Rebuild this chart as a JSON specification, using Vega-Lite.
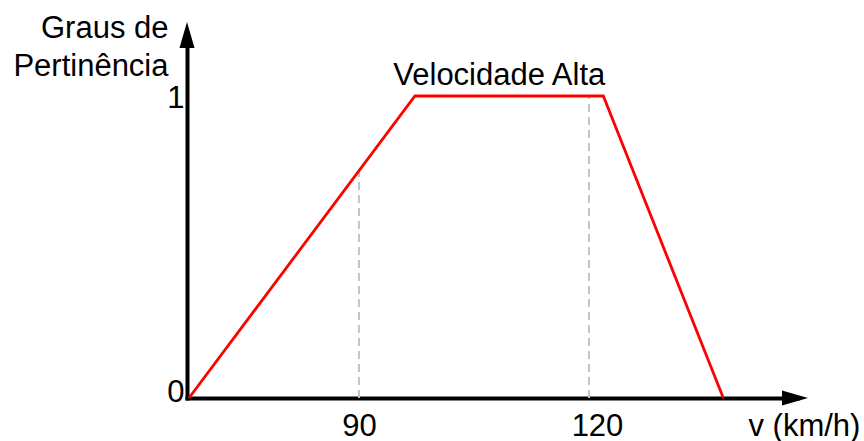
{
  "$schema": "https://vega.github.io/schema/vega-lite/v6.json",
  "autosize": "none",
  "width": 610,
  "height": 363,
  "padding": {"left": 187, "top": 35, "right": 67, "bottom": 43},
  "background": "white",
  "config": {
    "view": {"stroke": null},
    "font": "Liberation Sans"
  },
  "datasets": {
    "pertinencia": [
      {"v": 67.83, "g": 0},
      {"v": 97.3, "g": 1},
      {"v": 121.87, "g": 1},
      {"v": 137.52, "g": 0}
    ],
    "guias": [
      {"guia": "90", "v": 90, "g": 0},
      {"guia": "90", "v": 90, "g": 0.752},
      {"guia": "120", "v": 120, "g": 0},
      {"guia": "120", "v": 120, "g": 1}
    ],
    "rotulo": [
      {"v": 108.3, "g": 1.036, "label": "Velocidade Alta"}
    ]
  },
  "layer": [
    {
      "data": {"name": "guias"},
      "mark": {"type": "line", "color": "#c4c4c4", "strokeWidth": 2, "strokeDash": [8, 5]},
      "encoding": {
        "x": {
          "field": "v",
          "type": "quantitative",
          "scale": {"domain": [67.57, 147.13], "nice": false, "zero": false},
          "axis": {
            "values": [90, 120],
            "format": "d",
            "domain": true,
            "domainColor": "black",
            "domainWidth": 4,
            "domainCap": "square",
            "ticks": false,
            "grid": false,
            "labelFontSize": 31,
            "labelColor": "black",
            "labelFont": "Liberation Sans",
            "labelBaseline": "alphabetic",
            "labelPadding": 37,
            "labelOffset": {"condition": {"test": "datum.value == 120", "value": 8}, "value": 0},
            "title": "v (km/h)",
            "titleFont": "Liberation Sans",
            "titleFontSize": 31,
            "titleFontWeight": "normal",
            "titleColor": "black",
            "titleAlign": "left",
            "titleBaseline": "alphabetic",
            "titleAnchor": "start",
            "titleX": 561,
            "titleY": 37
          }
        },
        "y": {
          "field": "g",
          "type": "quantitative",
          "scale": {"domain": [0, 1.202], "nice": false, "zero": false},
          "axis": {
            "values": [0, 1],
            "format": "d",
            "domain": true,
            "domainColor": "black",
            "domainWidth": 4,
            "domainCap": "square",
            "ticks": false,
            "grid": false,
            "labelFontSize": 31,
            "labelColor": "black",
            "labelFont": "Liberation Sans",
            "labelPadding": 3,
            "labelOffset": 2,
            "labelFlush": true,
            "labelFlushOffset": 8,
            "title": ["Graus de", "Pertinência"],
            "titleFont": "Liberation Sans",
            "titleFontSize": 31,
            "titleFontWeight": "normal",
            "titleColor": "black",
            "titleAngle": 0,
            "titleAlign": "right",
            "titleBaseline": "alphabetic",
            "titleAnchor": "start",
            "titleLineHeight": 38,
            "titleX": -19,
            "titleY": 2
          }
        },
        "detail": {"field": "guia"}
      }
    },
    {
      "data": {"name": "pertinencia"},
      "mark": {"type": "line", "color": "#ff0000", "strokeWidth": 2.8},
      "encoding": {
        "x": {"field": "v", "type": "quantitative"},
        "y": {"field": "g", "type": "quantitative"}
      }
    },
    {
      "data": {"values": [{"seta": "v"}]},
      "mark": {"type": "point", "shape": "M -1 -0.58 L 1 0 L -1 0.58 Z", "size": 676, "filled": true, "color": "black", "opacity": 1},
      "encoding": {
        "x": {"datum": 146.87},
        "y": {"datum": 0}
      }
    },
    {
      "data": {"values": [{"seta": "g"}]},
      "mark": {"type": "point", "shape": "M -0.58 1 L 0 -1 L 0.58 1 Z", "size": 676, "filled": true, "color": "black", "opacity": 1},
      "encoding": {
        "x": {"datum": 67.57},
        "y": {"datum": 1.202}
      }
    },
    {
      "data": {"name": "rotulo"},
      "mark": {"type": "text", "fontSize": 31, "font": "Liberation Sans", "color": "black", "align": "center", "baseline": "alphabetic"},
      "encoding": {
        "x": {"field": "v", "type": "quantitative"},
        "y": {"field": "g", "type": "quantitative"},
        "text": {"field": "label"}
      }
    }
  ]
}
